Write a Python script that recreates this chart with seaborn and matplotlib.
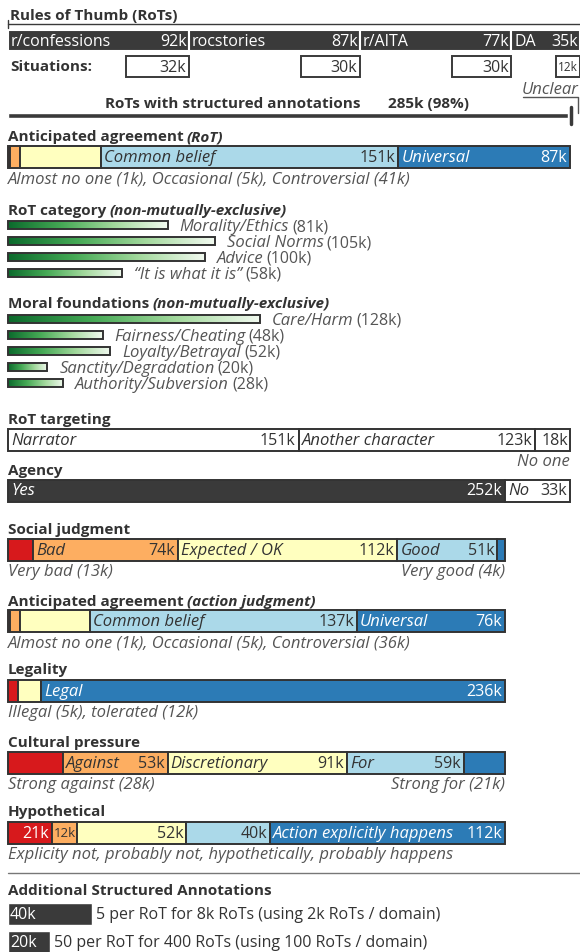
import matplotlib.pyplot as plt
import seaborn as sns
import numpy as np
from matplotlib.colors import LinearSegmentedColormap

sns.set_theme(style="white")
plt.rcParams["font.family"] = ["Open Sans", "DejaVu Sans"]

# counts are in thousands (k)
rot_sources = ["r/confessions", "rocstories", "r/AITA", "DA"]
rot_counts = [92, 87, 77, 35]
situation_counts = [32, 30, 30, 12]
structured_count = 285
structured_pct = 98

agree_names = ["Almost no one", "Occasional", "Controversial", "Common belief", "Universal"]
agree_rot = [1, 5, 41, 151, 87]
agree_action = [1, 5, 36, 137, 76]
category_names = ["Morality/Ethics", "Social Norms", "Advice", "\u201cIt is what it is\u201d"]
category_counts = [81, 105, 100, 58]
foundation_names = ["Care/Harm", "Fairness/Cheating", "Loyalty/Betrayal",
                    "Sanctity/Degradation", "Authority/Subversion"]
foundation_counts = [128, 48, 52, 20, 28]
target_names = ["Narrator", "Another character", "No one"]
target_counts = [151, 123, 18]
agency_names = ["Yes", "No"]
agency_counts = [252, 33]
judgment_names = ["Very bad", "Bad", "Expected / OK", "Good", "Very good"]
judgment_counts = [13, 74, 112, 51, 4]
legality_names = ["Illegal", "tolerated", "Legal"]
legality_counts = [5, 12, 236]
pressure_names = ["Strong against", "Against", "Discretionary", "For", "Strong for"]
pressure_counts = [28, 53, 91, 59, 21]
hypo_names = ["Explicity not", "probably not", "hypothetically", "probably happens",
              "Action explicitly happens"]
hypo_counts = [21, 12, 52, 40, 112]
extra_counts = [40, 20]
extra_notes = ["5 per RoT for 8k RoTs (using 2k RoTs / domain)",
               "50 per RoT for 400 RoTs (using 100 RoTs / domain)"]

RED, ORANGE, YELLOW, LBLUE, BLUE = sns.color_palette(
    ["#d7191c", "#fdae61", "#ffffbf", "#abd9e9", "#2c7bb6"])
DARK = "#3a3a3a"
EDGE = "#333333"
GREY = "#555555"
TXT = "#333333"
greens = LinearSegmentedColormap.from_list("g", ["#0b6a2c", "#45a955", "#a3d99d", "#f2faf0"])

HEAD = 11     # bold section titles
NAME = 12     # italic names inside bars
VAL = 11.5    # counts inside bars
SUB = 12      # grey notes under bars

fig = plt.figure(figsize=(5.8, 9.53), dpi=100)
ax = fig.add_axes([0, 0, 1, 1])


def set_limits():
    ax.set_xlim(0, 580)
    ax.set_ylim(953, 0)
    ax.axis("off")


set_limits()
rend = fig.canvas.get_renderer()


def put(x, y, s, size=SUB, ha="left", color=TXT, style="normal", weight="normal"):
    return ax.text(x, y, s, fontsize=size, ha=ha, va="center", color=color,
                   style=style, fontweight=weight)


def fit(t, room, size):
    # shrink a label that would not fit in its box
    tw = t.get_window_extent(rend).width
    if tw > room:
        t.set_fontsize(size * room / tw)


def chain(x, y, parts, color=TXT, gap=3):
    for s, size, style, weight in parts:
        t = put(x, y, s, size, color=color, style=style, weight=weight)
        x += t.get_window_extent(rend).width + gap
    return x


def header(y, bold, extra=None):
    parts = [(bold, HEAD, "normal", "bold")]
    if extra:
        parts.append((extra, HEAD, "italic", "bold"))
    chain(8, y, parts, color=TXT, gap=3)


def stacked(y, counts, colors, span, labels, h=22, x0=8):
    k = span / sum(counts)
    widths = k * np.asarray(counts, dtype=float)
    lefts = x0 + np.concatenate([[0], np.cumsum(widths)[:-1]])
    ax.barh(y, widths, left=lefts, height=h, color=colors, edgecolor=EDGE, linewidth=1.4)
    for l, w, c, (name, show, tc) in zip(lefts, widths, counts, labels):
        if name:
            put(l + 3, y, name, NAME, color=tc, style="italic")
        if show:
            pad = 3 if w > 40 else 1.5
            t = put(l + w - pad, y, f"{c}k", VAL, ha="right", color=tc)
            fit(t, w - 2 * pad, VAL)


def green_bars(ys, counts, names, scale=1.97, h=8, x0=8):
    grad = np.linspace(0, 1, 256)[None, :]
    bars = ax.barh(ys, np.asarray(counts) * scale, left=x0, height=h,
                   color="none", edgecolor=EDGE, linewidth=1.4, zorder=3)
    for b, y, c, n in zip(bars, ys, counts, names):
        x1 = x0 + b.get_width()
        im = ax.imshow(grad, extent=[x0, x1, y + h / 2, y - h / 2], cmap=greens,
                       aspect="auto", zorder=2)
        im.set_clip_path(b)
        chain(x1 + 12, y + 1, [(n, SUB, "italic", "normal"),
                               (f"({c}k)", VAL, "normal", "normal")],
              color=GREY, gap=3)


# ---- Rules of Thumb ----
put(10, 16, "Rules of Thumb (RoTs)", HEAD, weight="bold")
ax.plot([8, 580], [25, 25], color=DARK, lw=1)
ax.plot([8, 8], [21, 29], color=DARK, lw=1)

s_top = 1.965
w_src = np.asarray(rot_counts) * s_top
l_src = 8 + np.concatenate([[0], np.cumsum(w_src)[:-1]])
ax.barh(41.5, w_src, left=l_src, height=21, color=DARK, edgecolor="white", linewidth=1.5)
for l, w, n, c, sc in zip(l_src, w_src, rot_sources, rot_counts, situation_counts):
    put(l + 3, 41.5, n, VAL, color="white")
    put(l + w - 2, 41.5, f"{c}k", VAL, ha="right", color="white")
    bw = sc * s_top
    ax.barh(67.5, bw, left=l + w - bw, height=21, color="white",
            edgecolor=DARK, linewidth=1.4)
    t = put(l + w - 2.5, 67.5, f"{sc}k", VAL, ha="right", color=TXT)
    fit(t, bw - 4, VAL)
put(10, 67, "Situations:", HEAD, weight="bold")

put(233, 104, "RoTs with structured annotations", HEAD, ha="center", weight="bold")
put(388, 104, f"{structured_count}k ({structured_pct}%)", HEAD, weight="bold")
end = 8 + structured_count * s_top
ax.barh(116, structured_count * s_top, left=8, height=5, color=DARK)
ax.plot([end + 3, end + 3], [108, 125], color=DARK, lw=2.5)
put(579, 90, "Unclear", SUB, ha="right", color=GREY, style="italic")
ax.plot([523, 578, 578], [98, 98, 114], color=GREY, lw=1)

# ---- RoT-level annotations ----
col5 = [RED, ORANGE, YELLOW, LBLUE, BLUE]
header(137, "Anticipated agreement", "(RoT)")
stacked(157.5, agree_rot, col5, 562,
        [(None, False, TXT)] * 3 + [("Common belief", True, TXT), ("Universal", True, "white")])
put(8, 179, ", ".join(f"{n} ({c}k)" for n, c in zip(agree_names[:3], agree_rot[:3])),
    SUB, color=GREY, style="italic")

header(211, "RoT category", "(non-mutually-exclusive)")
green_bars([226, 242, 258, 274], category_counts, category_names)

header(304, "Moral foundations", "(non-mutually-exclusive)")
green_bars([320, 336, 352, 368, 384], foundation_counts, foundation_names)

header(420, "RoT targeting")
stacked(441, target_counts, ["white"] * 3, 562,
        [("Narrator", True, TXT), ("Another character", True, TXT), (None, True, TXT)])
put(570, 462, target_names[2], SUB, ha="right", color=GREY, style="italic")

header(471, "Agency")
stacked(491.5, agency_counts, [DARK, "white"], 562,
        [("Yes", True, "white"), ("No", True, TXT)])

# ---- action-level annotations ----
header(530, "Social judgment")
stacked(551, judgment_counts, col5, 497,
        [(None, False, TXT), ("Bad", True, TXT), ("Expected / OK", True, TXT),
         ("Good", True, TXT), (None, False, TXT)])
put(8, 572, f"{judgment_names[0]} ({judgment_counts[0]}k)", SUB, color=GREY, style="italic")
put(505, 572, f"{judgment_names[4]} ({judgment_counts[4]}k)", SUB, ha="right",
    color=GREY, style="italic")

header(602, "Anticipated agreement", "(action judgment)")
stacked(622, agree_action, col5, 497,
        [(None, False, TXT)] * 3 + [("Common belief", True, TXT), ("Universal", True, "white")])
put(8, 644, ", ".join(f"{n} ({c}k)" for n, c in zip(agree_names[:3], agree_action[:3])),
    SUB, color=GREY, style="italic")

header(670, "Legality")
stacked(692, legality_counts, [RED, YELLOW, BLUE], 497,
        [(None, False, TXT), (None, False, TXT), ("Legal", True, "white")])
put(8, 713, ", ".join(f"{n} ({c}k)" for n, c in zip(legality_names[:2], legality_counts[:2])),
    SUB, color=GREY, style="italic")

header(743, "Cultural pressure")
stacked(764, pressure_counts, col5, 497,
        [(None, False, TXT), ("Against", True, TXT), ("Discretionary", True, TXT),
         ("For", True, TXT), (None, False, TXT)])
put(8, 785, f"{pressure_names[0]} ({pressure_counts[0]}k)", SUB, color=GREY, style="italic")
put(505, 785, f"{pressure_names[4]} ({pressure_counts[4]}k)", SUB, ha="right",
    color=GREY, style="italic")

header(812, "Hypothetical")
stacked(834, hypo_counts, col5, 497,
        [(None, True, "white"), (None, True, TXT), (None, True, TXT), (None, True, TXT),
         ("Action explicitly happens", True, "white")])
put(8, 855, ", ".join(hypo_names[:4]), SUB, color=GREY, style="italic")

ax.plot([8, 580], [874, 874], color="#777777", lw=1)
header(891, "Additional Structured Annotations")
for y, c, note in zip([915, 943], extra_counts, extra_notes):
    ax.barh(y, c * 2.1, left=8, height=22, color=DARK)
    put(10, y, f"{c}k", VAL, color="white")
    put(8 + c * 2.1 + 4, y, note, VAL, color=TXT)

set_limits()
fig.savefig("out.png", dpi=100, facecolor="white")
